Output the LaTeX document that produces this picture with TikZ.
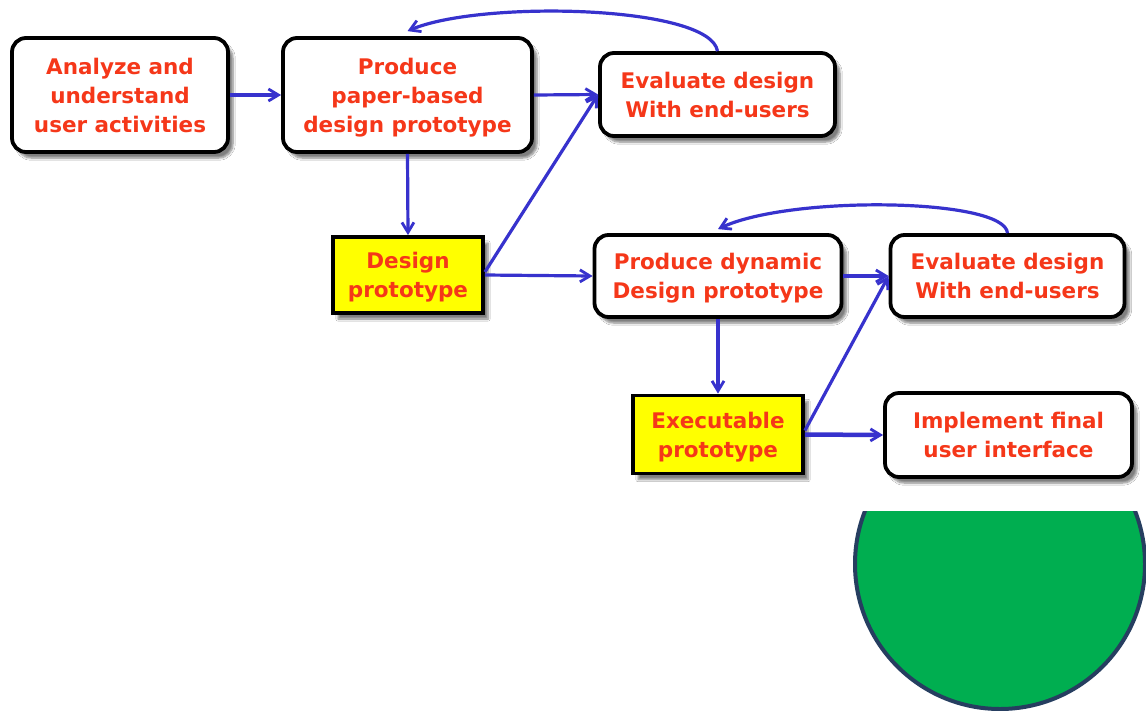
\documentclass[tikz,border=0pt]{standalone}
\usepackage{fontspec}
\setmainfont{DejaVu Sans}
\usetikzlibrary{arrows.meta,shadows.blur}
\definecolor{txtred}{RGB}{245,55,25}
\definecolor{lineblue}{RGB}{55,50,205}
\definecolor{hlyellow}{RGB}{255,255,0}
\definecolor{circgreen}{RGB}{0,174,80}
\definecolor{circedge}{RGB}{38,62,96}
\tikzset{
  roundbox/.style={draw=black, line width=3.8pt, rounded corners=14pt, fill=white,
    align=center, text=txtred, font=\fontsize{21.5}{29}\selectfont\bfseries,
    inner sep=0pt, text depth=0pt,
    blur shadow={shadow xshift=5pt, shadow yshift=-6pt, shadow blur steps=6, shadow opacity=50}},
  yelbox/.style={draw=black, line width=3.8pt, fill=hlyellow,
    align=center, text=txtred, font=\fontsize{21.5}{29}\selectfont\bfseries,
    inner sep=0pt, text depth=0pt,
    blur shadow={shadow xshift=5pt, shadow yshift=-6pt, shadow blur steps=6, shadow opacity=50}},
  conn/.style={draw=lineblue, line width=3.2pt, -{Straight Barb[length=10pt,width=12pt,line width=2.8pt]}},
}
\begin{document}
\begin{tikzpicture}[x=1pt,y=-1pt]
\useasboundingbox (0,0) rectangle (1146,710);
\fill[white] (0,0) rectangle (1146,710);
% green circle, partly hidden
\begin{scope}
\clip (0,511) rectangle (1146,710);
\node[circle, minimum size=290pt, inner sep=0pt, fill=circgreen, draw=circedge, line width=4pt] (circ) at (1000,564) {};
\end{scope}
% boxes
\node[roundbox, minimum width=216pt, minimum height=114pt] (A) at (120,95) {Analyze and\\understand\\user activities};
\node[roundbox, minimum width=249pt, minimum height=114pt] (B) at (407.5,95) {Produce\\paper-based\\design prototype};
\node[roundbox, minimum width=235pt, minimum height=83pt] (C) at (717.5,94.5) {Evaluate design\\With end-users};
\node[yelbox, minimum width=150pt, minimum height=76pt] (D) at (408,275) {Design\\prototype};
\node[roundbox, minimum width=247pt, minimum height=82pt] (E) at (718,276) {Produce dynamic\\Design prototype};
\node[roundbox, minimum width=234pt, minimum height=82pt] (F) at (1007.5,276) {Evaluate design\\With end-users};
\node[yelbox, minimum width=170pt, minimum height=78pt] (G) at (718,434.5) {Executable\\prototype};
\node[roundbox, minimum width=247pt, minimum height=84pt] (H) at (1008.5,435) {Implement final\\user interface};
% connectors
\draw[conn] (A.east) -- (B.west);
\draw[conn] (B.east) -- (C.west);
\draw[conn] ([yshift=3pt]D.east) -- (C.west);
\draw[conn] (D.east) -- (E.west);
\draw[conn] (B.south) -- (D.north);
\draw[conn] (C.north) .. controls (710,5) and (480,0) .. ([yshift=5pt]B.north);
\draw[conn] (E.east) -- (F.west);
\draw[conn] ([yshift=4pt]G.east) -- (F.west);
\draw[conn] (E.south) -- (G.north);
\draw[conn] (F.north) .. controls (1005,198) and (790,195) .. ([yshift=4pt]E.north);
\draw[conn, line width=4.5pt] (G.east) -- (H.west);
\end{tikzpicture}
\end{document}
